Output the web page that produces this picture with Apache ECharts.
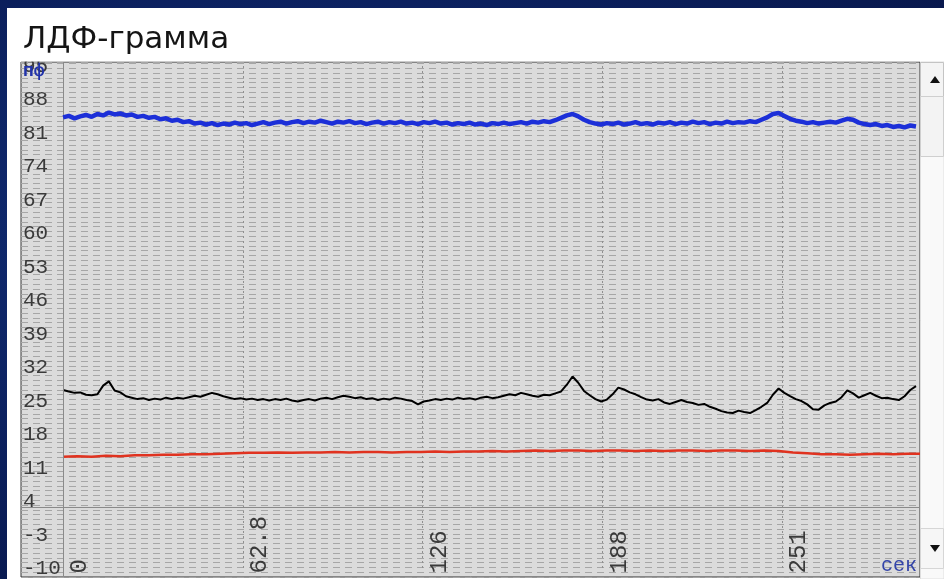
<!DOCTYPE html>
<html>
<head>
<meta charset="utf-8">
<script src="https://cdn.jsdelivr.net/npm/echarts@6/dist/echarts.min.js"></script>
<style>
  html, body { margin: 0; padding: 0; width: 944px; height: 579px; overflow: hidden;
    background: radial-gradient(ellipse at 30% 40%, #13307a 0%, #0b1f5c 55%, #071546 100%); }
  #panel { position: absolute; left: 7px; top: 8px; width: 937px; height: 571px; background: #ffffff; }
  #chart { position: absolute; left: 0; top: 0; width: 944px; height: 579px; }
</style>
</head>
<body>
<div id="panel"></div>
<div id="chart"></div>
<script>
// ---------------- data ----------------
const TITLE = 'ЛДФ-грамма';
const Y_UNIT = 'пф';
const X_UNIT = 'сек';

// y tick labels: -10 ... 95 every 7
const Y_TICK_MIN = -10;
const Y_TICK_MAX = 95;
const Y_TICK_STEP = 7;
// x tick labels: 0, 62.8, 126, 188, 251
const X_TICK_STEP = 62.8;

// visible window of the plot (values at the frame edges)
const X_VIEW_MIN = -14.7;
const X_VIEW_MAX = 299.4;
const Y_VIEW_MIN = -11.46;
const Y_VIEW_MAX = 95.83;

// reference (solid) lines of the grid
const REF_T = 0;
const REF_V = 3;

const BLUE_STEP = 2;
const BLACK_STEP = 2;
const RED_STEP = 5;

const blueValues = [
  84.3, 84.6, 84.1, 84.5, 84.8, 84.4, 85.0, 84.7, 85.3, 84.9,
  85.1, 84.7, 84.9, 84.4, 84.6, 84.2, 84.4, 83.9, 84.1, 83.6,
  83.8, 83.3, 83.5, 83.0, 83.2, 82.8, 83.1, 82.7, 83.0, 82.8,
  83.2, 82.9, 83.1, 82.7, 83.0, 83.3, 82.9, 83.2, 83.4, 83.0,
  83.3, 83.5, 83.1, 83.4, 83.2, 83.6, 83.3, 83.0, 83.4, 83.2,
  83.5, 83.1, 83.3, 82.9, 83.2, 83.4, 83.0, 83.3, 83.1, 83.4,
  83.0, 83.2, 82.9, 83.3, 83.1, 83.4, 83.0, 83.2, 82.8, 83.1,
  82.9, 83.2, 82.8, 83.0, 82.7, 83.1, 82.9, 83.2, 82.9, 83.1,
  83.3, 83.0, 83.4, 83.2, 83.5, 83.3, 83.7, 84.2, 84.7, 85.0,
  84.5, 83.8, 83.3, 83.0, 82.8, 83.1, 82.9, 83.2, 82.8, 83.0,
  83.3, 82.9, 83.1, 82.8, 83.2, 83.0, 83.3, 82.9, 83.2, 83.0,
  83.4, 83.1, 83.3, 82.9, 83.2, 83.0, 83.4, 83.1, 83.3, 83.2,
  83.5, 83.3, 83.8, 84.3, 85.0, 85.2, 84.6, 84.0, 83.6, 83.4,
  83.1, 83.3, 83.0, 83.2, 83.4, 83.2, 83.6, 84.0, 83.8, 83.2,
  82.9, 82.7, 82.9, 82.5, 82.7, 82.3, 82.5, 82.2, 82.6, 82.4
];

const blackValues = [
  27.5, 27.2, 26.9, 27.0, 26.5, 26.4, 26.6, 28.4, 29.3, 27.4,
  27.0, 26.2, 25.9, 25.6, 25.8, 25.4, 25.7, 25.5, 25.9, 25.6,
  25.9, 25.7, 26.0, 26.3, 26.1, 26.5, 26.9, 26.6, 26.2, 25.9,
  25.6, 25.8, 25.5, 25.7, 25.4, 25.6, 25.3, 25.6, 25.4, 25.7,
  25.3, 25.1, 25.4, 25.6, 25.3, 25.7, 25.9, 25.6, 26.0, 26.3,
  26.1, 25.8, 26.0, 25.6, 25.8, 25.4, 25.7, 25.5, 25.9, 25.7,
  25.4, 25.2, 24.5, 25.1, 25.3, 25.6, 25.4, 25.7, 25.5, 25.9,
  25.6, 25.8, 25.5, 25.9, 26.1, 25.8, 26.0, 26.3, 26.6, 26.4,
  26.9, 26.6, 26.3, 26.1, 26.5, 26.4, 26.8, 27.2, 28.6, 30.3,
  29.0, 27.3, 26.4, 25.6, 25.1, 25.5, 26.6, 28.0, 27.6, 27.0,
  26.6, 26.0, 25.5, 25.3, 25.6, 24.9, 24.6, 25.0, 25.4, 25.0,
  24.8, 24.4, 24.6, 24.0, 23.6, 23.1, 22.8, 22.7, 23.2, 22.9,
  22.7, 23.3, 24.0, 24.8, 26.5, 27.8, 26.9, 26.2, 25.6, 25.2,
  24.5, 23.5, 23.4, 24.3, 24.8, 25.1, 26.0, 27.4, 26.8, 25.9,
  26.4, 26.9, 26.3, 25.8, 25.9, 25.6, 25.4, 26.2, 27.5, 28.3
];

const redValues = [
  13.6, 13.7, 13.6, 13.8, 13.7, 13.9, 13.9, 14.0, 14.0, 14.1,
  14.1, 14.2, 14.3, 14.4, 14.4, 14.5, 14.4, 14.5, 14.5, 14.6,
  14.5, 14.6, 14.6, 14.5, 14.6, 14.6, 14.7, 14.6, 14.7, 14.7,
  14.8, 14.7, 14.8, 14.9, 14.8, 14.9, 14.9, 14.8, 14.9, 14.9,
  14.8, 14.9, 14.8, 14.9, 14.9, 14.8, 14.9, 14.9, 14.8, 14.9,
  14.8, 14.5, 14.3, 14.1, 14.1, 14.0, 14.1, 14.2, 14.1, 14.2,
  14.2
];

// ---------------- chart ----------------
const toPairs = (vals, step) => vals.map((v, i) => [i * step, v]);

const MONO = "'Liberation Mono', 'DejaVu Sans Mono', monospace";

function xLabel(v) {
  if (Math.abs(v) < 1e-9) return '0';
  return v < 100 ? (Math.round(v * 10) / 10).toFixed(1) : String(Math.round(v));
}

const chart = echarts.init(document.getElementById('chart'), null, { renderer: 'canvas' });

const option = {
  backgroundColor: 'transparent',
  animation: false,
  title: {
    text: TITLE,
    left: 18,
    top: 19,
    z: 100,
    textStyle: { fontFamily: "'DejaVu Sans', Verdana, sans-serif", fontSize: 31, fontWeight: 'normal', color: '#151515' }
  },
  grid: [
    { // frame / data area
      left: 21, top: 62, width: 899, height: 515,
      show: true, backgroundColor: '#dbdbdb', borderColor: '#333333', borderWidth: 1
    },
    { // label area (0 .. and -10 .. 95)
      left: 63, top: 66, width: 857, height: 504, show: false
    }
  ],
  xAxis: [
    {
      gridIndex: 0, type: 'value', min: X_VIEW_MIN, max: X_VIEW_MAX,
      axisLine: { show: false }, axisTick: { show: false }, axisLabel: { show: false },
      splitLine: { show: false }
    },
    {
      gridIndex: 1, type: 'value', min: 0, max: X_VIEW_MAX, interval: X_TICK_STEP,
      position: 'bottom', offset: 7,
      axisLine: { show: false }, axisTick: { show: false },
      axisLabel: {
        show: true, inside: true, rotate: 90, margin: 2,
        align: 'left', verticalAlign: 'top', padding: [5, 0, 0, 0],
        showMaxLabel: false, hideOverlap: false,
        fontFamily: MONO, fontSize: 24, color: '#3a3a3a',
        formatter: xLabel
      },
      splitLine: { show: true, lineStyle: { color: '#8f8f8f', width: 1, type: [2, 3] } }
    }
  ],
  yAxis: [
    {
      gridIndex: 0, type: 'value', min: Y_VIEW_MIN, max: Y_VIEW_MAX, interval: 1,
      axisLine: { show: false }, axisTick: { show: false }, axisLabel: { show: false },
      splitLine: { show: true, lineStyle: { color: '#a6a6a6', width: 1, type: [7, 5] } }
    },
    {
      gridIndex: 1, type: 'value', min: Y_TICK_MIN, max: Y_TICK_MAX, interval: Y_TICK_STEP,
      position: 'left', offset: 42,
      axisLine: { show: false }, axisTick: { show: false },
      axisLabel: {
        show: true, inside: true, margin: 2, hideOverlap: false,
        fontFamily: MONO, fontSize: 21, color: '#3a3a3a'
      },
      splitLine: { show: false }
    }
  ],
  graphic: [
    // white strip above the frame (clips the top tick label like the original)
    { type: 'rect', z: 50, silent: true, shape: { x: 7, y: 8, width: 937, height: 53.5 }, style: { fill: '#ffffff' } },
    // axis unit captions
    { type: 'text', z: 70, silent: true, x: 23, y: 71,
      style: { text: Y_UNIT, fill: '#2233aa', font: "bold 18px 'Liberation Mono', monospace", textAlign: 'left', textVerticalAlign: 'middle' } },
    { type: 'text', z: 70, silent: true, x: 917, y: 576,
      style: { text: X_UNIT, fill: '#3344a8', font: "20px 'Liberation Mono', monospace", textAlign: 'right', textVerticalAlign: 'bottom' } },
    // scroll bar
    { type: 'rect', z: 60, silent: true, shape: { x: 920.5, y: 62, width: 23.5, height: 517 }, style: { fill: '#f9f9f9', stroke: '#dedede', lineWidth: 1 } },
    { type: 'rect', z: 61, silent: true, shape: { x: 920.5, y: 62.5, width: 23, height: 34 }, style: { fill: '#f4f4f4', stroke: '#c4c4c4', lineWidth: 1 } },
    { type: 'polygon', z: 62, silent: true, shape: { points: [[930, 83], [940, 83], [935, 76]] }, style: { fill: '#111111' } },
    { type: 'rect', z: 61, silent: true, shape: { x: 920.5, y: 96.5, width: 23, height: 60 }, style: { fill: '#f3f3f3', stroke: '#cfcfcf', lineWidth: 1 } },
    { type: 'rect', z: 61, silent: true, shape: { x: 920.5, y: 528.5, width: 23, height: 40 }, style: { fill: '#f6f6f6', stroke: '#d6d6d6', lineWidth: 1 } },
    { type: 'polygon', z: 62, silent: true, shape: { points: [[930, 545], [940, 545], [935, 552]] }, style: { fill: '#111111' } }
  ],
  series: [
    {
      name: 'red', type: 'line', xAxisIndex: 0, yAxisIndex: 0,
      data: toPairs(redValues, RED_STEP), showSymbol: false, symbol: 'none',
      lineStyle: { color: '#e0321f', width: 2.5 }, z: 3,
      markLine: {
        silent: true, symbol: 'none', label: { show: false },
        lineStyle: { color: '#8a8a8a', width: 1, type: 'solid' },
        data: [{ xAxis: REF_T }, { yAxis: REF_V }]
      }
    },
    {
      name: 'black', type: 'line', xAxisIndex: 0, yAxisIndex: 0,
      data: toPairs(blackValues, BLACK_STEP), showSymbol: false, symbol: 'none',
      lineStyle: { color: '#000000', width: 2 }, z: 4
    },
    {
      name: 'blue', type: 'line', xAxisIndex: 0, yAxisIndex: 0,
      data: toPairs(blueValues, BLUE_STEP), showSymbol: false, symbol: 'none',
      lineStyle: { color: '#1c2fd8', width: 4.5 }, z: 5
    }
  ]
};

chart.setOption(option);
</script>
</body>
</html>
